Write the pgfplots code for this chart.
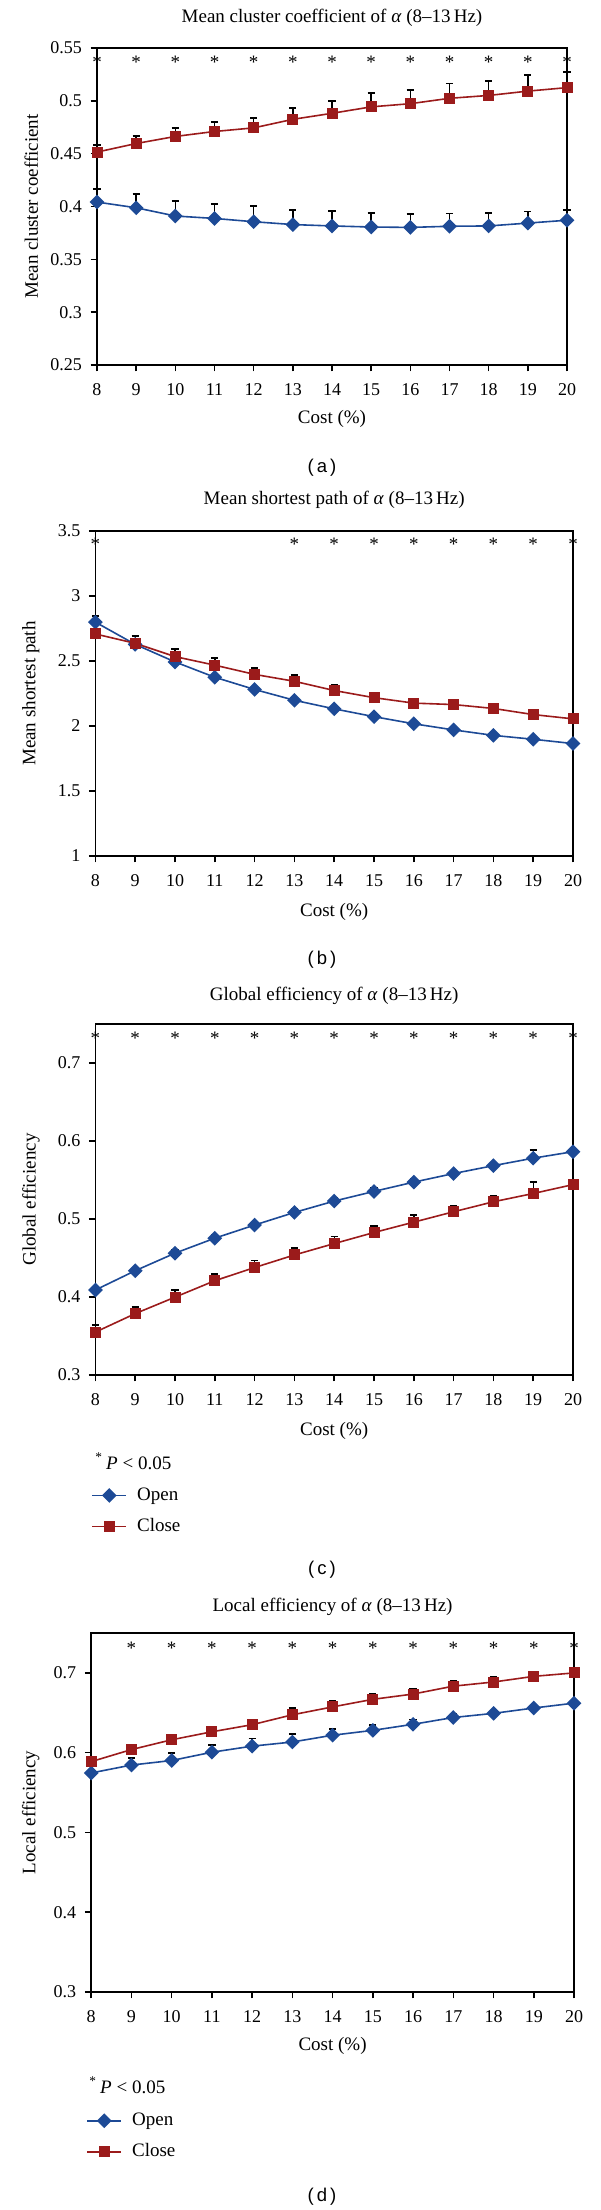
\documentclass[border=0pt]{standalone}
\usepackage{fontspec}
\setmainfont{Liberation Serif}
\setsansfont{Liberation Sans}
\usepackage{pgfplots}
\pgfplotsset{compat=1.18}
\definecolor{openblue}{RGB}{29,74,150}
\definecolor{closered}{RGB}{155,27,27}
\newcommand{\fs}{\fontsize{9.5}{11}\selectfont}
\newcommand{\ft}{\fontsize{9}{10.5}\selectfont}
\pgfplotsset{
  panel/.style={
    scale only axis, clip=false,
    xmin=8, xmax=20, xtick={8,...,20},
    tick align=outside, xtick pos=bottom, ytick pos=left,
    major tick length=3.2pt,
    axis line style={line width=0.8pt},
    every tick/.style={black, line width=0.8pt},
    tick label style={font=\ft},
    label style={font=\fs},
    title style={font=\fs, at={(0.5,1)}, anchor=center, yshift=8.5pt},
    /pgf/number format/assume math mode=true,
    xlabel={Cost (\%)},
    xlabel style={at={(axis description cs:0.5,0)}, anchor=center, yshift=-28pt},
    xticklabel style={anchor=center, yshift=-9pt},
    yticklabel style={anchor=east, xshift=-0.8pt},
  },
  open/.style={color=openblue, line width=0.8pt, mark=square*, mark size=2.2pt,
    mark options={rotate=45, fill=openblue, draw=openblue},
    error bars/.cd, y dir=plus, y explicit,
    error bar style={black, line width=0.7pt},
    error mark options={rotate=90, black, mark size=1.8pt, line width=0.9pt}},
  close/.style={color=closered, line width=0.8pt, mark=square*, mark size=2.35pt,
    mark options={fill=closered, draw=closered},
    error bars/.cd, y dir=plus, y explicit,
    error bar style={black, line width=0.7pt},
    error mark options={rotate=90, black, mark size=1.8pt, line width=0.9pt}},
  stars/.style={draw=none, mark=none, nodes near coords={*},
    every node near coord/.style={anchor=base, yshift=-4.6pt, font=\fs, inner sep=0pt, text=black}},
  leg/.style={legend style={draw=none, fill=none, inner sep=0pt, column sep=4pt, row sep=3.5pt,
    font=\fs, nodes={inner sep=1pt, text height=7.5pt, text depth=2.5pt}, legend cell align=left}},
}
\begin{document}
\begin{tikzpicture}
\useasboundingbox (0,0) rectangle (300pt,-1105pt);
% ---------------- (a)
\begin{axis}[panel, at={(48.5pt,-182.5pt)}, anchor=south west, width=235pt, height=158.5pt,
  ymin=0.25, ymax=0.55, ytick={0.25,0.3,0.35,0.4,0.45,0.5,0.55},
  yticklabels={0.25,0.3,0.35,0.4,0.45,0.5,0.55},
  title={Mean cluster coefficient of \textit{α} (8–13\,Hz)},
  title style={yshift=0.5pt},
  xlabel style={yshift=1pt},
  ylabel={Mean cluster coefficient},
  ylabel style={at={(axis description cs:-0.140,0.5)}, anchor=center}]
\addplot[open] table[x=x, y=y, y error=e] {
x y e
8 0.4042 0.0125
9 0.3988 0.013
10 0.3910 0.014
11 0.3887 0.014
12 0.3856 0.015
13 0.3829 0.014
14 0.3816 0.014
15 0.3806 0.013
16 0.3802 0.013
17 0.3813 0.012
18 0.3816 0.012
19 0.3843 0.011
20 0.3870 0.010
};
\addplot[close] table[x=x, y=y, y error=e] {
x y e
8 0.4515 0.007
9 0.4596 0.007
10 0.4663 0.008
11 0.4710 0.009
12 0.4744 0.0095
13 0.4825 0.0105
14 0.4882 0.012
15 0.4943 0.013
16 0.4973 0.013
17 0.5024 0.014
18 0.5051 0.014
19 0.5092 0.015
20 0.5125 0.015
};
\addplot[stars] coordinates {(8,0.539) (9,0.539) (10,0.539) (11,0.539) (12,0.539) (13,0.539) (14,0.539) (15,0.539) (16,0.539) (17,0.539) (18,0.539) (19,0.539) (20,0.539)};
\end{axis}
\node[font=\sffamily\fontsize{9.25}{11}\selectfont] at (161pt,-234pt) {(\,a\,)};
% ---------------- (b)
\begin{axis}[panel, at={(47.7pt,-428pt)}, anchor=south west, width=238.8pt, height=162.5pt,
  ymin=1, ymax=3.5, ytick={1,1.5,2,2.5,3,3.5}, yticklabels={1,1.5,2,2.5,3,3.5},
  title={Mean shortest path of \textit{α} (8–13\,Hz)},
  title style={yshift=1pt},
  ylabel={Mean shortest path},
  ylabel style={at={(axis description cs:-0.135,0.5)}, anchor=center}]
\addplot[open] table[x=x, y=y, y error=e] {
x y e
8 2.799 0.047
9 2.628 0.03
10 2.493 0.02
11 2.375 0.015
12 2.281 0.015
13 2.198 0.012
14 2.132 0.01
15 2.072 0.01
16 2.017 0.01
17 1.970 0.008
18 1.928 0.008
19 1.898 0.008
20 1.865 0.008
};
\addplot[close] table[x=x, y=y, y error=e] {
x y e
8 2.708 0.03
9 2.636 0.058
10 2.534 0.058
11 2.468 0.055
12 2.397 0.05
13 2.344 0.047
14 2.273 0.04
15 2.218 0.035
16 2.176 0.035
17 2.165 0.03
18 2.135 0.03
19 2.088 0.027
20 2.055 0.025
};
\addplot[stars] coordinates {(8,3.423) (13,3.423) (14,3.423) (15,3.423) (16,3.423) (17,3.423) (18,3.423) (19,3.423) (20,3.423)};
\end{axis}
\node[font=\sffamily\fontsize{9.25}{11}\selectfont] at (161pt,-480pt) {(\,b\,)};
% ---------------- (c)
\begin{axis}[panel, leg, at={(47.7pt,-687.5pt)}, anchor=south west, width=238.8pt, height=175.5pt,
  ymin=0.3, ymax=0.75, ytick={0.3,0.4,0.5,0.6,0.7}, yticklabels={0.3,0.4,0.5,0.6,0.7},
  title={Global efficiency of \textit{α} (8–13\,Hz)},
  title style={yshift=-0.5pt},
  ylabel={Global efficiency},
  ylabel style={at={(axis description cs:-0.135,0.5)}, anchor=center},
  legend style={at={(axis description cs:-0.0092,-0.3077)}, anchor=north west}]
\addplot[open] table[x=x, y=y, y error=e] {
x y e
8 0.409 0.004
9 0.4337 0.004
10 0.4562 0.004
11 0.4754 0.004
12 0.4923 0.004
13 0.5084 0.004
14 0.5230 0.004
15 0.5354 0.004
16 0.5473 0.004
17 0.5583 0.004
18 0.5684 0.004
19 0.5780 0.010
20 0.5863 0.004
};
\addlegendentry{Open}
\addplot[close] table[x=x, y=y, y error=e] {
x y e
8 0.355 0.009
9 0.3787 0.009
10 0.3998 0.009
11 0.4209 0.009
12 0.4378 0.009
13 0.4539 0.009
14 0.4685 0.009
15 0.4827 0.008
16 0.4960 0.009
17 0.5093 0.007
18 0.5221 0.007
19 0.5327 0.015
20 0.5441 0.006
};
\addlegendentry{Close}
\addplot[stars, forget plot] coordinates {(8,0.735) (9,0.735) (10,0.735) (11,0.735) (12,0.735) (13,0.735) (14,0.735) (15,0.735) (16,0.735) (17,0.735) (18,0.735) (19,0.735) (20,0.735)};
\end{axis}
\node[font=\fs, anchor=base west, inner sep=0pt] at (47.5pt,-734.5pt) {\textsuperscript{*}\,\textit{P} < 0.05};
\node[font=\sffamily\fontsize{9.25}{11}\selectfont] at (161pt,-785pt) {(\,c\,)};
% ---------------- (d)
\begin{axis}[panel, leg, at={(45.6pt,-996pt)}, anchor=south west, width=241.4pt, height=179.5pt,
  ymin=0.3, ymax=0.75, ytick={0.3,0.4,0.5,0.6,0.7}, yticklabels={0.3,0.4,0.5,0.6,0.7},
  title={Local efficiency of \textit{α} (8–13\,Hz)},
  title style={yshift=-1.5pt},
  xlabel style={yshift=1pt},
  ylabel={Local efficiency},
  ylabel style={at={(axis description cs:-0.125,0.5)}, anchor=center},
  legend style={at={(axis description cs:-0.0108,-0.324)}, anchor=north west}]
\addplot[open] table[x=x, y=y, y error=e] {
x y e
8 0.5746 0.003
9 0.5845 0.0085
10 0.5902 0.0095
11 0.6006 0.0095
12 0.6082 0.0095
13 0.6134 0.010
14 0.6219 0.008
15 0.6280 0.007
16 0.6356 0.006
17 0.6441 0.004
18 0.6493 0.003
19 0.6560 0.003
20 0.6621 0.003
};
\addlegendentry{Open}
\addplot[close] table[x=x, y=y, y error=e] {
x y e
8 0.5888 0.006
9 0.6039 0.006
10 0.6162 0.006
11 0.6262 0.006
12 0.6351 0.006
13 0.6475 0.009
14 0.6574 0.007
15 0.6669 0.007
16 0.6735 0.007
17 0.6834 0.007
18 0.6886 0.006
19 0.6957 0.006
20 0.7000 0.006
};
\addlegendentry{Close}
\addplot[stars, forget plot] coordinates {(9,0.735) (10,0.735) (11,0.735) (12,0.735) (13,0.735) (14,0.735) (15,0.735) (16,0.735) (17,0.735) (18,0.735) (19,0.735) (20,0.735)};
\end{axis}
\node[font=\fs, anchor=base west, inner sep=0pt] at (44.5pt,-1046.5pt) {\textsuperscript{*}\,\textit{P} < 0.05};
\node[font=\sffamily\fontsize{9.25}{11}\selectfont] at (161pt,-1098.5pt) {(\,d\,)};
\end{tikzpicture}
\end{document}
